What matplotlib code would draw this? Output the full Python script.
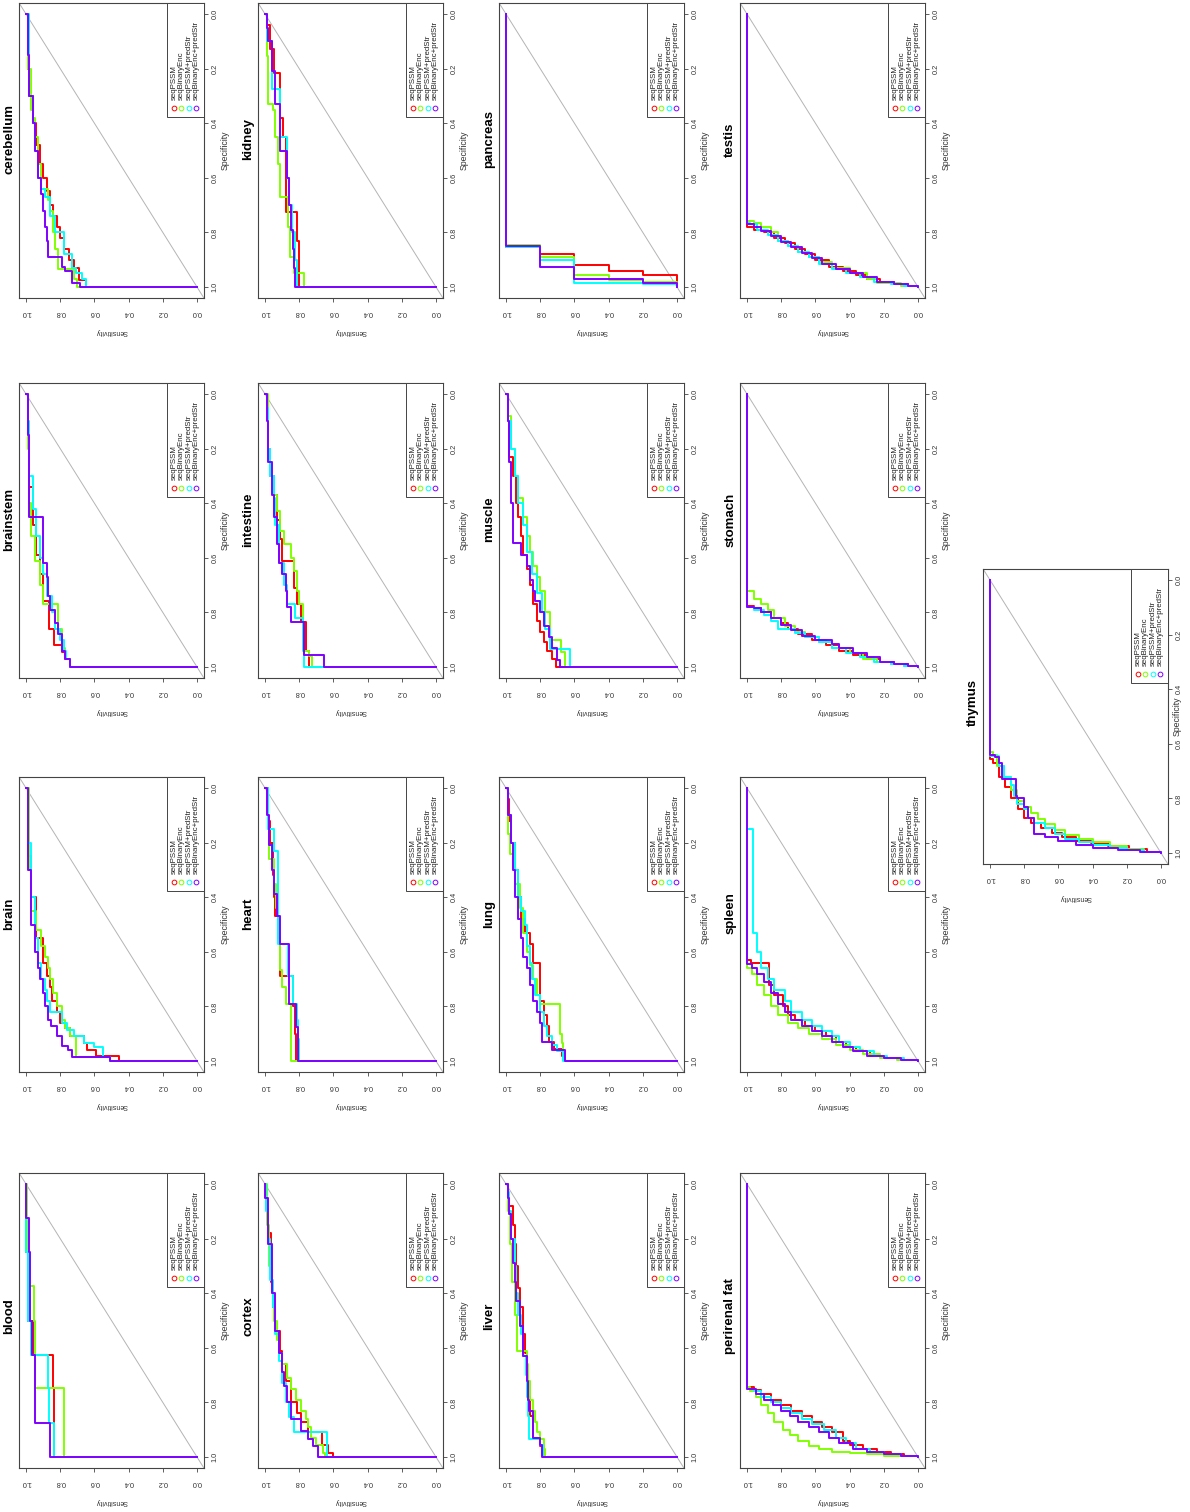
"""
ROC curves for 17 tissues, page turned a quarter turn (as in the scanned figure)
"""
import matplotlib
matplotlib.use("Agg")
import matplotlib.pyplot as plt
from matplotlib.patches import Rectangle

plt.rcParams['font.family'] = ['Liberation Sans', 'DejaVu Sans']

series_names = ["seqPSSM", "seqBinaryEnc", "seqPSSM+predStr", "seqBinaryEnc+predStr"]
series_colors = ["#FF0000", "#80FF00", "#00FFFF", "#8000FF"]  # rainbow(4)
tick_values = [0.0, 0.2, 0.4, 0.6, 0.8, 1.0]
tick_labels = ["0.0", "0.2", "0.4", "0.6", "0.8", "1.0"]

# each series: (specificity, sensitivity) -> at that specificity the sensitivity rises to that value
blood_pssm = [(1.0, 0.834), (0.748, 0.844), (0.627, 0.96), (0.50, 0.99), (0.25, 1.0), (0.0, 1.0)]
blood_bin = [(1.0, 0.78), (0.748, 0.945), (0.50, 0.955), (0.375, 0.98), (0.25, 0.995), (0.0, 1.0)]
blood_pssm_str = [(1.0, 0.834), (0.875, 0.864), (0.748, 0.873), (0.627, 0.97), (0.50, 0.99), (0.25, 1.0), (0.0, 1.0)]
blood_bin_str = [(1.0, 0.858), (0.875, 0.945), (0.627, 0.965), (0.50, 0.975), (0.25, 0.985), (0.125, 1.0), (0.0, 1.0)]

brain_pssm = [(1.0, 0.455), (0.98, 0.59), (0.96, 0.645), (0.935, 0.66), (0.91, 0.74), (0.88, 0.77), (0.86, 0.80),
              (0.82, 0.82), (0.78, 0.85), (0.73, 0.86), (0.69, 0.88), (0.64, 0.90), (0.55, 0.94), (0.40, 0.97),
              (0.25, 0.99), (0.0, 1.0)]
brain_bin = [(1.0, 0.51), (0.985, 0.705), (0.91, 0.74), (0.88, 0.77), (0.85, 0.79), (0.80, 0.82), (0.75, 0.84),
             (0.70, 0.86), (0.66, 0.87), (0.62, 0.89), (0.58, 0.91), (0.52, 0.94), (0.45, 0.97), (0.30, 0.98), (0.0, 1.0)]
brain_pssm_str = [(1.0, 0.51), (0.985, 0.55), (0.95, 0.60), (0.935, 0.66), (0.91, 0.72), (0.885, 0.76), (0.86, 0.79),
                  (0.82, 0.86), (0.78, 0.88), (0.74, 0.89), (0.70, 0.91), (0.64, 0.93), (0.55, 0.95), (0.40, 0.97),
                  (0.20, 0.99), (0.0, 1.0)]
brain_bin_str = [(1.0, 0.51), (0.985, 0.73), (0.96, 0.755), (0.945, 0.79), (0.91, 0.82), (0.87, 0.855), (0.85, 0.87),
                 (0.80, 0.89), (0.75, 0.90), (0.70, 0.92), (0.66, 0.93), (0.60, 0.95), (0.50, 0.97), (0.30, 0.99), (0.0, 1.0)]

brainstem_pssm = [(1.0, 0.745), (0.97, 0.77), (0.945, 0.79), (0.92, 0.835), (0.86, 0.865), (0.76, 0.90), (0.66, 0.92),
                  (0.59, 0.94), (0.48, 0.96), (0.34, 0.98), (0.16, 0.99), (0.0, 1.0)]
brainstem_bin = [(1.0, 0.745), (0.97, 0.77), (0.93, 0.79), (0.86, 0.815), (0.77, 0.90), (0.70, 0.92), (0.61, 0.95),
                 (0.52, 0.97), (0.40, 0.98), (0.20, 0.99), (0.0, 1.0)]
brainstem_pssm_str = [(1.0, 0.745), (0.97, 0.765), (0.94, 0.78), (0.90, 0.80), (0.86, 0.83), (0.80, 0.85), (0.74, 0.88),
                      (0.66, 0.90), (0.60, 0.92), (0.52, 0.94), (0.42, 0.96), (0.30, 0.98), (0.10, 0.99), (0.0, 1.0)]
brainstem_bin_str = [(1.0, 0.745), (0.97, 0.77), (0.94, 0.79), (0.88, 0.81), (0.84, 0.83), (0.79, 0.86), (0.74, 0.87),
                     (0.67, 0.88), (0.62, 0.90), (0.45, 0.98), (0.15, 0.99), (0.0, 1.0)]

cerebellum_pssm = [(1.0, 0.65), (0.975, 0.69), (0.93, 0.72), (0.90, 0.75), (0.86, 0.78), (0.82, 0.80), (0.78, 0.82),
                   (0.74, 0.84), (0.70, 0.86), (0.65, 0.88), (0.60, 0.90), (0.55, 0.92), (0.48, 0.94), (0.40, 0.96),
                   (0.30, 0.98), (0.20, 0.99), (0.0, 1.0)]
cerebellum_bin = [(1.0, 0.70), (0.97, 0.72), (0.935, 0.81), (0.86, 0.83), (0.80, 0.84), (0.72, 0.86), (0.68, 0.87),
                  (0.64, 0.91), (0.55, 0.93), (0.45, 0.95), (0.38, 0.96), (0.35, 0.97), (0.20, 0.99), (0.0, 1.0)]
cerebellum_pssm_str = [(1.0, 0.65), (0.97, 0.67), (0.95, 0.71), (0.93, 0.73), (0.88, 0.78), (0.80, 0.83), (0.74, 0.86),
                       (0.67, 0.89), (0.64, 0.91), (0.60, 0.93), (0.50, 0.95), (0.40, 0.96), (0.30, 0.98), (0.0, 1.0)]
cerebellum_bin_str = [(1.0, 0.685), (0.985, 0.73), (0.94, 0.77), (0.925, 0.79), (0.89, 0.87), (0.83, 0.88), (0.78, 0.89),
                      (0.72, 0.90), (0.66, 0.91), (0.60, 0.93), (0.50, 0.95), (0.40, 0.96), (0.30, 0.98), (0.15, 0.99),
                      (0.0, 1.0)]

cortex_pssm = [(1.0, 0.603), (0.985, 0.63), (0.955, 0.665), (0.91, 0.75), (0.87, 0.79), (0.84, 0.81), (0.80, 0.85),
               (0.72, 0.88), (0.66, 0.90), (0.61, 0.915), (0.54, 0.94), (0.45, 0.955), (0.36, 0.965), (0.18, 0.985),
               (0.09, 0.995), (0.0, 1.0)]
cortex_bin = [(1.0, 0.65), (0.985, 0.66), (0.955, 0.70), (0.93, 0.73), (0.89, 0.75), (0.86, 0.76), (0.83, 0.79),
              (0.79, 0.82), (0.75, 0.85), (0.71, 0.87), (0.66, 0.90), (0.62, 0.92), (0.57, 0.93), (0.50, 0.95),
              (0.40, 0.96), (0.30, 0.975), (0.15, 0.99), (0.0, 1.0)]
cortex_pssm_str = [(1.0, 0.64), (0.91, 0.83), (0.855, 0.86), (0.80, 0.88), (0.73, 0.90), (0.65, 0.92), (0.55, 0.94),
                   (0.45, 0.955), (0.35, 0.97), (0.20, 0.985), (0.10, 0.995), (0.0, 1.0)]
cortex_bin_str = [(1.0, 0.69), (0.96, 0.72), (0.935, 0.75), (0.905, 0.79), (0.86, 0.85), (0.80, 0.87), (0.74, 0.89),
                  (0.69, 0.90), (0.62, 0.92), (0.54, 0.94), (0.40, 0.96), (0.22, 0.98), (0.05, 1.0), (0.0, 1.0)]

heart_pssm = [(1.0, 0.82), (0.90, 0.825), (0.80, 0.835), (0.69, 0.915), (0.55, 0.925), (0.47, 0.94), (0.40, 0.945),
              (0.32, 0.955), (0.20, 0.97), (0.12, 0.98), (0.0, 1.0)]
heart_bin = [(1.0, 0.847), (0.79, 0.88), (0.73, 0.90), (0.665, 0.915), (0.55, 0.925), (0.44, 0.935), (0.35, 0.95),
             (0.26, 0.975), (0.15, 0.985), (0.0, 1.0)]
heart_pssm_str = [(1.0, 0.80), (0.92, 0.805), (0.85, 0.815), (0.79, 0.835), (0.69, 0.865), (0.57, 0.925), (0.23, 0.95),
                  (0.15, 0.985), (0.0, 1.0)]
heart_bin_str = [(1.0, 0.808), (0.875, 0.82), (0.79, 0.86), (0.57, 0.915), (0.47, 0.93), (0.39, 0.945), (0.30, 0.96),
                 (0.21, 0.975), (0.10, 0.99), (0.0, 1.0)]

intestine_pssm = [(1.0, 0.74), (0.94, 0.76), (0.835, 0.79), (0.77, 0.81), (0.71, 0.83), (0.61, 0.90), (0.53, 0.915),
                  (0.46, 0.93), (0.37, 0.95), (0.30, 0.97), (0.20, 0.98), (0.05, 0.99), (0.0, 1.0)]
intestine_bin = [(1.0, 0.725), (0.96, 0.74), (0.94, 0.77), (0.85, 0.78), (0.77, 0.80), (0.72, 0.81), (0.65, 0.83),
                 (0.60, 0.85), (0.55, 0.89), (0.50, 0.91), (0.43, 0.93), (0.37, 0.95), (0.30, 0.97), (0.20, 0.98),
                 (0.0, 1.0)]
intestine_pssm_str = [(1.0, 0.77), (0.94, 0.78), (0.82, 0.825), (0.77, 0.87), (0.70, 0.89), (0.62, 0.92), (0.48, 0.94),
                      (0.38, 0.95), (0.30, 0.97), (0.20, 0.98), (0.05, 0.99), (0.0, 1.0)]
intestine_bin_str = [(1.0, 0.654), (0.957, 0.77), (0.835, 0.85), (0.78, 0.87), (0.72, 0.88), (0.66, 0.90), (0.62, 0.92),
                     (0.55, 0.93), (0.45, 0.95), (0.37, 0.96), (0.25, 0.98), (0.10, 0.99), (0.0, 1.0)]

kidney_pssm = [(1.0, 0.80), (0.83, 0.81), (0.725, 0.875), (0.50, 0.88), (0.45, 0.895), (0.38, 0.91), (0.215, 0.95),
               (0.13, 0.97), (0.04, 0.99), (0.0, 1.0)]
kidney_bin = [(1.0, 0.77), (0.95, 0.83), (0.89, 0.855), (0.78, 0.865), (0.67, 0.91), (0.55, 0.925), (0.45, 0.94),
              (0.35, 0.955), (0.33, 0.98), (0.155, 0.99), (0.0, 1.0)]
kidney_pssm_str = [(1.0, 0.815), (0.90, 0.825), (0.80, 0.84), (0.70, 0.86), (0.60, 0.87), (0.45, 0.91), (0.275, 0.96),
                   (0.10, 0.99), (0.0, 1.0)]
kidney_bin_str = [(1.0, 0.824), (0.93, 0.83), (0.86, 0.835), (0.79, 0.85), (0.70, 0.86), (0.60, 0.87), (0.50, 0.915),
                  (0.33, 0.94), (0.21, 0.96), (0.10, 0.98), (0.05, 0.99), (0.0, 1.0)]

liver_pssm = [(1.0, 0.777), (0.96, 0.80), (0.93, 0.84), (0.85, 0.86), (0.78, 0.87), (0.70, 0.88), (0.62, 0.89),
              (0.55, 0.90), (0.45, 0.92), (0.38, 0.93), (0.30, 0.94), (0.22, 0.95), (0.15, 0.96), (0.08, 0.98),
              (0.04, 0.99), (0.0, 1.0)]
liver_bin = [(1.0, 0.77), (0.97, 0.78), (0.935, 0.80), (0.91, 0.82), (0.87, 0.83), (0.83, 0.84), (0.79, 0.86),
             (0.72, 0.87), (0.66, 0.88), (0.61, 0.935), (0.48, 0.95), (0.36, 0.965), (0.22, 0.975), (0.10, 0.99),
             (0.0, 1.0)]
liver_pssm_str = [(1.0, 0.785), (0.955, 0.80), (0.935, 0.865), (0.85, 0.87), (0.78, 0.875), (0.70, 0.885), (0.63, 0.90),
                  (0.55, 0.91), (0.48, 0.93), (0.40, 0.94), (0.30, 0.95), (0.20, 0.97), (0.10, 0.98), (0.03, 0.99),
                  (0.0, 1.0)]
liver_bin_str = [(1.0, 0.79), (0.955, 0.80), (0.93, 0.845), (0.83, 0.865), (0.79, 0.87), (0.72, 0.88), (0.63, 0.90),
                 (0.52, 0.92), (0.43, 0.94), (0.36, 0.95), (0.29, 0.96), (0.20, 0.97), (0.11, 0.98), (0.05, 0.99),
                 (0.0, 1.0)]

lung_pssm = [(1.0, 0.656), (0.98, 0.67), (0.955, 0.72), (0.93, 0.75), (0.87, 0.76), (0.83, 0.78), (0.78, 0.80),
             (0.64, 0.845), (0.57, 0.86), (0.53, 0.89), (0.48, 0.91), (0.40, 0.93), (0.30, 0.95), (0.20, 0.97),
             (0.12, 0.98), (0.04, 0.99), (0.0, 1.0)]
lung_bin = [(1.0, 0.656), (0.97, 0.665), (0.935, 0.675), (0.90, 0.685), (0.79, 0.80), (0.76, 0.82), (0.70, 0.845),
            (0.65, 0.86), (0.60, 0.88), (0.53, 0.90), (0.44, 0.92), (0.35, 0.95), (0.24, 0.975), (0.17, 0.99), (0.0, 1.0)]
lung_pssm_str = [(1.0, 0.664), (0.965, 0.70), (0.94, 0.73), (0.91, 0.76), (0.87, 0.78), (0.82, 0.80), (0.76, 0.83),
                 (0.70, 0.85), (0.64, 0.86), (0.58, 0.88), (0.50, 0.89), (0.45, 0.91), (0.40, 0.93), (0.30, 0.95),
                 (0.20, 0.97), (0.10, 0.99), (0.0, 1.0)]
lung_bin_str = [(1.0, 0.656), (0.96, 0.73), (0.93, 0.79), (0.86, 0.80), (0.82, 0.82), (0.78, 0.84), (0.72, 0.86),
                (0.66, 0.88), (0.62, 0.90), (0.55, 0.91), (0.48, 0.93), (0.40, 0.95), (0.30, 0.96), (0.20, 0.97),
                (0.10, 0.99), (0.0, 1.0)]

muscle_pssm = [(1.0, 0.71), (0.97, 0.73), (0.94, 0.76), (0.91, 0.78), (0.87, 0.80), (0.83, 0.82), (0.77, 0.84),
               (0.70, 0.86), (0.64, 0.88), (0.59, 0.90), (0.52, 0.91), (0.45, 0.93), (0.40, 0.94), (0.30, 0.96),
               (0.23, 0.98), (0.10, 0.99), (0.0, 1.0)]
muscle_bin = [(1.0, 0.655), (0.945, 0.68), (0.90, 0.74), (0.80, 0.77), (0.72, 0.80), (0.67, 0.82), (0.63, 0.84),
              (0.58, 0.86), (0.52, 0.88), (0.45, 0.90), (0.38, 0.93), (0.30, 0.95), (0.20, 0.97), (0.08, 0.99),
              (0.0, 1.0)]
muscle_pssm_str = [(1.0, 0.625), (0.935, 0.74), (0.86, 0.77), (0.80, 0.79), (0.73, 0.82), (0.66, 0.85), (0.58, 0.88),
                   (0.48, 0.90), (0.40, 0.93), (0.30, 0.95), (0.20, 0.97), (0.10, 0.99), (0.0, 1.0)]
muscle_bin_str = [(1.0, 0.683), (0.975, 0.70), (0.93, 0.73), (0.89, 0.75), (0.85, 0.78), (0.80, 0.80), (0.76, 0.83),
                  (0.72, 0.84), (0.68, 0.86), (0.63, 0.88), (0.59, 0.91), (0.545, 0.96), (0.40, 0.97), (0.25, 0.98),
                  (0.10, 0.99), (0.0, 1.0)]

pancreas_pssm = [(1.0, 0.0), (0.955, 0.2), (0.94, 0.4), (0.92, 0.6), (0.88, 0.8), (0.855, 1.0), (0.0, 1.0)]
pancreas_bin = [(1.0, 0.0), (0.98, 0.2), (0.975, 0.4), (0.955, 0.6), (0.89, 0.8), (0.845, 1.0), (0.0, 1.0)]
pancreas_pssm_str = [(1.0, 0.0), (0.99, 0.2), (0.985, 0.6), (0.90, 0.8), (0.855, 1.0), (0.0, 1.0)]
pancreas_bin_str = [(1.0, 0.0), (0.985, 0.2), (0.97, 0.6), (0.925, 0.8), (0.85, 1.0), (0.0, 1.0)]

perirenal_pssm = [(1.0, 0.0), (0.998, 0.08), (0.99, 0.16), (0.98, 0.24), (0.97, 0.32), (0.955, 0.40), (0.94, 0.44),
                  (0.91, 0.50), (0.89, 0.56), (0.87, 0.62), (0.85, 0.68), (0.83, 0.74), (0.81, 0.80), (0.79, 0.86),
                  (0.77, 0.92), (0.755, 0.96), (0.745, 1.0), (0.0, 1.0)]
perirenal_bin = [(1.0, 0.0), (0.998, 0.10), (0.995, 0.20), (0.99, 0.30), (0.985, 0.40), (0.98, 0.50), (0.97, 0.58),
                 (0.96, 0.64), (0.94, 0.70), (0.92, 0.75), (0.90, 0.79), (0.87, 0.84), (0.84, 0.88), (0.81, 0.92),
                 (0.78, 0.95), (0.76, 0.98), (0.745, 1.0), (0.0, 1.0)]
perirenal_pssm_str = [(1.0, 0.0), (0.998, 0.10), (0.99, 0.20), (0.98, 0.28), (0.97, 0.36), (0.95, 0.42), (0.93, 0.48),
                      (0.90, 0.55), (0.88, 0.62), (0.86, 0.68), (0.84, 0.74), (0.82, 0.80), (0.80, 0.86), (0.78, 0.92),
                      (0.76, 0.96), (0.75, 1.0), (0.0, 1.0)]
perirenal_bin_str = [(1.0, 0.0), (0.998, 0.10), (0.99, 0.20), (0.98, 0.30), (0.97, 0.38), (0.95, 0.46), (0.93, 0.52),
                     (0.91, 0.58), (0.89, 0.64), (0.87, 0.70), (0.85, 0.75), (0.83, 0.80), (0.81, 0.85), (0.79, 0.90),
                     (0.77, 0.95), (0.75, 1.0), (0.0, 1.0)]

spleen_pssm = [(1.0, 0.0), (0.997, 0.10), (0.99, 0.20), (0.98, 0.28), (0.965, 0.36), (0.95, 0.42), (0.93, 0.48),
               (0.91, 0.54), (0.89, 0.60), (0.87, 0.66), (0.85, 0.72), (0.83, 0.76), (0.80, 0.79), (0.76, 0.84),
               (0.72, 0.87), (0.64, 0.975), (0.63, 1.0), (0.0, 1.0)]
spleen_bin = [(1.0, 0.0), (0.997, 0.12), (0.99, 0.22), (0.975, 0.32), (0.96, 0.40), (0.94, 0.48), (0.92, 0.56),
              (0.90, 0.64), (0.88, 0.70), (0.86, 0.76), (0.83, 0.82), (0.80, 0.86), (0.76, 0.90), (0.72, 0.94),
              (0.68, 0.97), (0.66, 1.0), (0.0, 1.0)]
spleen_pssm_str = [(1.0, 0.0), (0.997, 0.08), (0.99, 0.18), (0.98, 0.26), (0.965, 0.34), (0.95, 0.40), (0.93, 0.46),
                   (0.91, 0.50), (0.89, 0.56), (0.87, 0.62), (0.85, 0.68), (0.82, 0.74), (0.78, 0.78), (0.74, 0.84),
                   (0.70, 0.88), (0.66, 0.92), (0.60, 0.94), (0.53, 0.967), (0.15, 1.0), (0.0, 1.0)]
spleen_bin_str = [(1.0, 0.0), (0.997, 0.10), (0.99, 0.20), (0.98, 0.30), (0.965, 0.38), (0.95, 0.44), (0.93, 0.50),
                  (0.91, 0.56), (0.89, 0.62), (0.87, 0.68), (0.85, 0.74), (0.82, 0.78), (0.79, 0.82), (0.75, 0.86),
                  (0.71, 0.90), (0.68, 0.94), (0.66, 0.97), (0.645, 1.0), (0.0, 1.0)]

stomach_pssm = [(1.0, 0.0), (0.998, 0.06), (0.99, 0.14), (0.98, 0.22), (0.97, 0.30), (0.955, 0.38), (0.94, 0.46),
                (0.92, 0.54), (0.90, 0.62), (0.88, 0.70), (0.86, 0.76), (0.84, 0.80), (0.82, 0.86), (0.80, 0.92),
                (0.785, 0.96), (0.775, 1.0), (0.0, 1.0)]
stomach_bin = [(1.0, 0.0), (0.995, 0.08), (0.99, 0.16), (0.98, 0.24), (0.97, 0.32), (0.95, 0.40), (0.93, 0.50),
               (0.91, 0.58), (0.89, 0.66), (0.87, 0.72), (0.85, 0.78), (0.82, 0.84), (0.79, 0.88), (0.77, 0.92),
               (0.75, 0.96), (0.72, 1.0), (0.0, 1.0)]
stomach_pssm_str = [(1.0, 0.0), (0.997, 0.08), (0.99, 0.16), (0.98, 0.26), (0.965, 0.34), (0.95, 0.42), (0.93, 0.50),
                    (0.91, 0.58), (0.89, 0.66), (0.875, 0.72), (0.86, 0.82), (0.83, 0.86), (0.81, 0.90), (0.79, 0.96),
                    (0.78, 1.0), (0.0, 1.0)]
stomach_bin_str = [(1.0, 0.0), (0.997, 0.06), (0.99, 0.14), (0.98, 0.22), (0.965, 0.30), (0.95, 0.38), (0.93, 0.46),
                   (0.915, 0.50), (0.90, 0.60), (0.885, 0.68), (0.865, 0.74), (0.845, 0.80), (0.82, 0.86), (0.80, 0.92),
                   (0.785, 0.96), (0.78, 1.0), (0.0, 1.0)]

testis_pssm = [(1.0, 0.0), (0.998, 0.06), (0.99, 0.14), (0.98, 0.22), (0.97, 0.30), (0.955, 0.36), (0.94, 0.44),
               (0.925, 0.52), (0.90, 0.60), (0.88, 0.66), (0.86, 0.72), (0.84, 0.78), (0.82, 0.84), (0.80, 0.90),
               (0.79, 0.96), (0.78, 1.0), (0.0, 1.0)]
testis_bin = [(1.0, 0.0), (0.995, 0.10), (0.985, 0.24), (0.97, 0.30), (0.95, 0.40), (0.93, 0.50), (0.91, 0.58),
              (0.89, 0.64), (0.87, 0.70), (0.85, 0.76), (0.83, 0.82), (0.80, 0.86), (0.78, 0.92), (0.765, 0.96),
              (0.76, 1.0), (0.0, 1.0)]
testis_pssm_str = [(1.0, 0.0), (0.997, 0.08), (0.99, 0.16), (0.98, 0.26), (0.965, 0.34), (0.95, 0.42), (0.935, 0.50),
                   (0.915, 0.58), (0.89, 0.64), (0.87, 0.70), (0.85, 0.76), (0.83, 0.82), (0.81, 0.88), (0.79, 0.94),
                   (0.77, 0.98), (0.765, 1.0), (0.0, 1.0)]
testis_bin_str = [(1.0, 0.0), (0.997, 0.06), (0.99, 0.14), (0.98, 0.24), (0.965, 0.32), (0.95, 0.40), (0.935, 0.48),
                  (0.915, 0.56), (0.895, 0.62), (0.875, 0.68), (0.855, 0.74), (0.835, 0.80), (0.815, 0.86), (0.795, 0.92),
                  (0.78, 0.96), (0.77, 1.0), (0.0, 1.0)]

thymus_pssm = [(1.0, 0.0), (0.995, 0.08), (0.985, 0.19), (0.975, 0.31), (0.965, 0.41), (0.955, 0.50), (0.94, 0.58),
               (0.925, 0.64), (0.91, 0.70), (0.89, 0.76), (0.87, 0.80), (0.84, 0.835), (0.80, 0.88), (0.76, 0.91),
               (0.72, 0.95), (0.67, 0.98), (0.655, 1.0), (0.0, 1.0)]
thymus_bin = [(1.0, 0.0), (0.995, 0.10), (0.985, 0.20), (0.975, 0.30), (0.96, 0.40), (0.95, 0.48), (0.935, 0.56),
              (0.915, 0.62), (0.895, 0.68), (0.875, 0.72), (0.855, 0.76), (0.83, 0.80), (0.81, 0.84), (0.77, 0.88),
              (0.72, 0.92), (0.68, 0.96), (0.64, 0.985), (0.63, 1.0), (0.0, 1.0)]
thymus_pssm_str = [(1.0, 0.0), (0.995, 0.10), (0.99, 0.20), (0.98, 0.30), (0.97, 0.40), (0.96, 0.48), (0.95, 0.56),
                   (0.93, 0.62), (0.91, 0.68), (0.89, 0.74), (0.87, 0.78), (0.84, 0.80), (0.82, 0.84), (0.79, 0.86),
                   (0.75, 0.88), (0.72, 0.92), (0.68, 0.95), (0.645, 1.0), (0.0, 1.0)]
thymus_bin_str = [(1.0, 0.0), (0.995, 0.12), (0.99, 0.25), (0.98, 0.40), (0.97, 0.50), (0.955, 0.60), (0.94, 0.68),
                  (0.93, 0.74), (0.87, 0.78), (0.83, 0.80), (0.80, 0.84), (0.79, 0.85), (0.73, 0.93), (0.67, 0.95),
                  (0.65, 0.97), (0.64, 1.0), (0.0, 1.0)]

tissues = ["blood", "brain", "brainstem", "cerebellum", "cortex", "heart", "intestine", "kidney",
           "liver", "lung", "muscle", "pancreas", "perirenal fat", "spleen", "stomach", "testis", "thymus"]
roc_data = {
    "blood": [blood_pssm, blood_bin, blood_pssm_str, blood_bin_str],
    "brain": [brain_pssm, brain_bin, brain_pssm_str, brain_bin_str],
    "brainstem": [brainstem_pssm, brainstem_bin, brainstem_pssm_str, brainstem_bin_str],
    "cerebellum": [cerebellum_pssm, cerebellum_bin, cerebellum_pssm_str, cerebellum_bin_str],
    "cortex": [cortex_pssm, cortex_bin, cortex_pssm_str, cortex_bin_str],
    "heart": [heart_pssm, heart_bin, heart_pssm_str, heart_bin_str],
    "intestine": [intestine_pssm, intestine_bin, intestine_pssm_str, intestine_bin_str],
    "kidney": [kidney_pssm, kidney_bin, kidney_pssm_str, kidney_bin_str],
    "liver": [liver_pssm, liver_bin, liver_pssm_str, liver_bin_str],
    "lung": [lung_pssm, lung_bin, lung_pssm_str, lung_bin_str],
    "muscle": [muscle_pssm, muscle_bin, muscle_pssm_str, muscle_bin_str],
    "pancreas": [pancreas_pssm, pancreas_bin, pancreas_pssm_str, pancreas_bin_str],
    "perirenal fat": [perirenal_pssm, perirenal_bin, perirenal_pssm_str, perirenal_bin_str],
    "spleen": [spleen_pssm, spleen_bin, spleen_pssm_str, spleen_bin_str],
    "stomach": [stomach_pssm, stomach_bin, stomach_pssm_str, stomach_bin_str],
    "testis": [testis_pssm, testis_bin, testis_pssm_str, testis_bin_str],
    "thymus": [thymus_pssm, thymus_bin, thymus_pssm_str, thymus_bin_str],
}

# page layout in pixels (the figure is turned: sensitivity runs along x, specificity along y)
FW, FH = 1190, 1512
SX, SY = 171.0, 273.0          # pixels per unit of sensitivity / specificity
col_x = [26, 265, 506, 747, 990]   # x pixel of sensitivity = 1.0
row_y = [1184, 788, 394, 14]       # y pixel of specificity = 0.0
title_shift = [-4, -11, -11, -11]  # titles sit a little towards the top of the page
AXC = '#444444'

fig = plt.figure(figsize=(FW / 100, FH / 100), dpi=100)
fig.patch.set_facecolor('white')


def draw_panel(name, x1, y0, curves, tshift=-11, spec_off=21):
    aw, ah = 1.08 * SX, 1.08 * SY
    left = x1 - 0.04 * SX
    top = y0 - 0.04 * SY
    ax = fig.add_axes([left / FW, 1 - (top + ah) / FH, aw / FW, ah / FH])
    ax.set_xlim(1.04, -0.04)
    ax.set_ylim(1.04, -0.04)

    ax.axline((0.0, 1.0), (1.0, 0.0), color='#b4b4b4', lw=0.7, zorder=1)
    for pairs, col in zip(curves, series_colors):
        spec = [1.0] + [p[0] for p in pairs]
        sens = [0.0] + [p[1] for p in pairs]
        ax.plot(sens, spec, drawstyle='steps-pre', color=col, lw=1.4, zorder=2)

    for s in ax.spines.values():
        s.set_color(AXC)
        s.set_linewidth(0.8)

    # sensitivity axis (bottom, upside-down labels)
    ax.set_xticks(tick_values)
    ax.set_xticklabels(tick_labels)
    ax.tick_params(axis='x', length=3, width=0.6, pad=5, labelsize=5.3,
                   labelrotation=180, color=AXC, labelcolor='#333333')
    # specificity axis (right side)
    ax.yaxis.tick_right()
    ax.set_yticks(tick_values)
    ax.set_yticklabels(tick_labels)
    ax.tick_params(axis='y', length=3, width=0.6, pad=2.5, labelsize=5.3,
                   labelrotation=90, color=AXC, labelcolor='#333333')
    for lab in ax.get_yticklabels():
        lab.set_va('center')

    ax.text(0.5, -34 / ah, "Sensitivity", transform=ax.transAxes, rotation=180,
            ha='center', va='center', fontsize=5.0, color='#333333')
    ax.text(1 + spec_off / aw, 0.5, "Specificity", transform=ax.transAxes, rotation=90,
            ha='center', va='center', fontsize=6.3, color='#333333')
    ax.text(-4 / aw, 0.5 - tshift / ah, name, transform=ax.transAxes, rotation=90,
            ha='right', va='center', fontsize=9.5, fontweight='bold')

    # legend in the (turned) bottom-right corner
    lw_px, lh_px = 37.0, 114.0
    ax.add_patch(Rectangle((1 - lw_px / aw, 1 - lh_px / ah), lw_px / aw, lh_px / ah,
                           transform=ax.transAxes, facecolor='white', edgecolor=AXC,
                           lw=0.7, zorder=5))
    for i, (lab, col) in enumerate(zip(series_names, series_colors)):
        xe = 1 - (30 - 7.5 * i) / aw
        ax.plot([xe], [1 - 105 / ah], 'o', transform=ax.transAxes, ms=3.4, mfc='none',
                mec=col, mew=0.7, zorder=6, clip_on=False)
        ax.text(xe, 1 - 97 / ah, lab, transform=ax.transAxes, rotation=90,
                rotation_mode='anchor', ha='left', va='center', fontsize=5.7,
                color='#222222', zorder=6)
    return ax


for i, name in enumerate(tissues[:16]):
    draw_panel(name, col_x[i // 4], row_y[i % 4], roc_data[name], tshift=title_shift[i % 4])
# the last panel sits against the right page edge: keep its axis label on the page
draw_panel("thymus", col_x[4], 580, roc_data["thymus"], tshift=-14, spec_off=9)

fig.savefig("out.png", dpi=100)
